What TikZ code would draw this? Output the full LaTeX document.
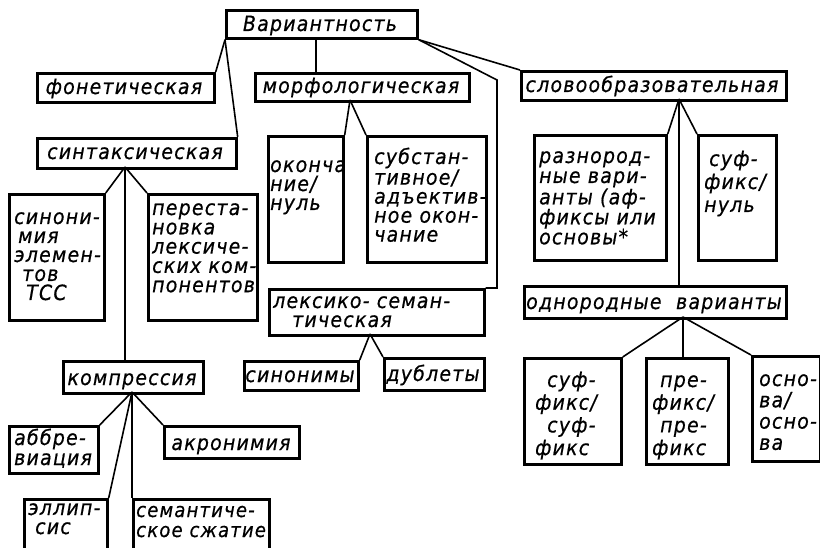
\documentclass[tikz,border=0pt]{standalone}
\usepackage{fontspec}
\newfontfamily\dft[LetterSpace=6,FakeBold=0.6]{DejaVu Sans Condensed Oblique}

% a framed box given by its corners (x1,y1) and (x2,y2), y counted downwards
\newcommand\mkbox[5]{%
  \node[bx,anchor=north west,minimum width={#4-#2},minimum height={#5-#3}] (#1) at (#2,#3) {};}

\tikzset{
  bx/.style={draw, line width=2.7pt, inner sep=0pt},
  lbl/.style={font=\dft\fontsize{21}{19}\selectfont, inner sep=0pt},
  wire/.style={line width=1.6pt},
}

\begin{document}
\begin{tikzpicture}[x=1pt,y=-1pt]
\useasboundingbox (0,0) rectangle (820,548);
\clip (0,0) rectangle (820,548);

% ---------- frames ----------
\mkbox{var}{225}{9}{416}{37}
\mkbox{fon}{36}{72}{213}{101}
\mkbox{morf}{254}{72}{468}{100}
\mkbox{slovo}{520}{70}{785}{99}
\mkbox{sint}{36}{137}{235}{167}
\mkbox{okon}{267}{135}{342}{261}
\mkbox{subst}{366}{135}{485}{261}
\mkbox{sinon}{8}{193}{103}{319}
\mkbox{perest}{147}{193}{256}{319}
\mkbox{leks}{268}{288}{483}{334}
\mkbox{synm}{243}{360}{357}{389}
\mkbox{dubl}{383}{357}{483}{389}
\mkbox{razn}{533}{134}{665}{259}
\mkbox{sufnul}{697}{134}{775}{259}
\mkbox{odnor}{523}{285}{785}{317}
\mkbox{sufsuf}{523}{357}{620}{463}
\mkbox{prepre}{645}{357}{727}{463}
\mkbox{osnosn}{751}{355}{819}{460}
\mkbox{kompr}{62}{360}{202}{392}
\mkbox{abbr}{8}{425}{97}{472}
\mkbox{akron}{163}{425}{298}{457}
\mkbox{ellip}{23}{498}{106}{575}
\mkbox{semsz}{132}{498}{268}{575}

% ---------- one-line labels ----------
\node[lbl,anchor=base] (varT)   at (320,31)  {Вариантность};
\node[lbl,anchor=base] (fonT)   at (124,94)  {фонетическая};
\node[lbl,anchor=base] (morfT)  at (361,93)  {морфологическая};
\node[lbl,anchor=base] (slovoT) at (652,92)  {словообразовательная};
\node[lbl,anchor=base] (sintT)  at (135,159) {синтаксическая};
\node[lbl,anchor=base] (synmT)  at (300,382) {синонимы};
\node[lbl,anchor=base] (dublT)  at (433,381) {дублеты};
\node[lbl,anchor=base] (odnorT) at (654,309) {однородные\ \ варианты};
\node[lbl,anchor=base] (komprT) at (132,385) {компрессия};
\node[lbl,anchor=base] (akronT) at (231,450) {акронимия};

% ---------- multi-line labels (first baseline at the given point) ----------
\node[lbl,anchor=base west] (okonT) at (270,172)
  {\vtop{\baselineskip=19pt\hbox{оконча}\hbox{ние/}\hbox{нуль}}};
\node[lbl,anchor=base west] (substT) at (374,164)
  {\vtop{\baselineskip=19pt\hbox{субстан-}\hbox{тивное/}\hbox{адъектив-}\hbox{ное окон-}\hbox{чание}}};
\node[lbl,anchor=base west] (sinonT) at (14,224)
  {\vtop{\baselineskip=19pt\hbox{синони-}\hbox{\kern4pt мия}\hbox{элемен-}\hbox{\kern8pt тов}\hbox{\kern12pt ТСС}}};
\node[lbl,anchor=base west] (perestT) at (152,215)
  {\vtop{\baselineskip=19.3pt\hbox{переста-}\hbox{новка}\hbox{лексиче-}\hbox{ских ком-}\hbox{понентов}}};
\node[lbl,anchor=base west] (leksT) at (273,308)
  {\vtop{\baselineskip=19pt\hbox{лексико- семан-}\hbox{\kern19pt тическая}}};
\node[lbl,anchor=base west] (raznT) at (539,163)
  {\vtop{\baselineskip=20pt\hbox{разнород-}\hbox{ные вари-}\hbox{анты (аф-}\hbox{фиксы или}\hbox{основы*}}};
\node[lbl,anchor=base west] (sufnulT) at (704,166)
  {\vtop{\baselineskip=23pt\hbox{\kern5pt суф-}\hbox{фикс/}\hbox{нуль}}};
\node[lbl,anchor=base west] (sufsufT) at (535,387)
  {\vtop{\baselineskip=22.7pt\hbox{\kern12pt суф-}\hbox{фикс/}\hbox{\kern12pt суф-}\hbox{фикс}}};
\node[lbl,anchor=base west] (preT) at (652,387)
  {\vtop{\baselineskip=22.7pt\hbox{\kern8pt пре-}\hbox{фикс/}\hbox{\kern8pt пре-}\hbox{фикс}}};
\node[lbl,anchor=base west] (osnT) at (759,386)
  {\vtop{\baselineskip=21.3pt\hbox{осно-}\hbox{ва/}\hbox{осно-}\hbox{ва}}};
\node[lbl,anchor=base west] (abbrT) at (14,445)
  {\vtop{\baselineskip=20pt\hbox{аббре-}\hbox{виация}}};
\node[lbl,anchor=base west] (ellipT) at (28,515)
  {\vtop{\baselineskip=19pt\hbox{эллип-}\hbox{\kern7pt сис}}};
\node[lbl,anchor=base west,font=\dft\fontsize{20}{19}\selectfont] (semszT) at (136,517)
  {\vtop{\baselineskip=20pt\hbox{семантиче-}\hbox{ское сжатие}}};

% ---------- branching points ----------
\coordinate (morfX) at (316,0);
\coordinate (bendA) at (497,80);
\coordinate (morfJ) at (350,100);
\coordinate (sintJ) at (125,167);
\coordinate (komprJ) at (132,392);
\coordinate (leksJ) at (370,334);
\coordinate (slovoJ) at (679,99);
\coordinate (odnorJ) at (683,317);

% ---------- connectors ----------
\draw[wire] (var.south west) -- (fon.north east);
\draw[wire] (var.south west) -- (sint.north east);
\draw[wire] (var.south -| morfX) -- (morf.north -| morfX);
\draw[wire] (var.south east) -- (slovo.north west);
\draw[wire] (var.south east) -- (bendA) -- (bendA |- leks.north) -- (leks.north east);

\draw[wire] (morfJ) -- (okon.north east);
\draw[wire] (morfJ) -- (subst.north west);

\draw[wire] (sintJ) -- (sinon.north east);
\draw[wire] (sintJ) -- (perest.north west);
\draw[wire] (sintJ) -- (sintJ |- kompr.north);

\draw[wire] (komprJ) -- (abbr.north east);
\draw[wire] (komprJ) -- (akron.north west);
\draw[wire] (komprJ) -- (ellip.north east);
\draw[wire] (komprJ) -- (komprJ |- semsz.north);

\draw[wire] (leksJ) -- (synm.north east);
\draw[wire] (leksJ) -- (dubl.north west);

\draw[wire] (slovoJ) -- (razn.north east);
\draw[wire] (slovoJ) -- (sufnul.north west);
\draw[wire] (slovoJ) -- (slovoJ |- odnor.north);

\draw[wire] (odnorJ) -- (sufsuf.north east);
\draw[wire] (odnorJ) -- (odnorJ |- prepre.north);
\draw[wire] (odnorJ) -- (osnosn.north west);
\end{tikzpicture}
\end{document}
